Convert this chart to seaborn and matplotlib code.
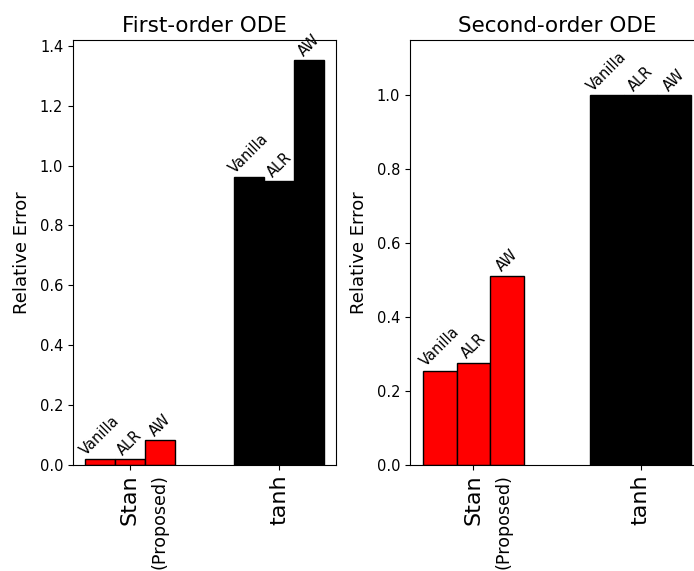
import numpy as np
import pandas as pd
import matplotlib
matplotlib.use("Agg")
import matplotlib.pyplot as plt
import seaborn as sns

# Activation functions compared on the x axis
methods = ["Stan", "tanh"]
method_colors = ["red", "black"]
# Training variants drawn side by side within each group
variants = ["Vanilla", "ALR", "AW"]

# Relative error, one list per variant, ordered as `methods`
first_vanilla = [0.020, 0.961]
first_alr = [0.020, 0.948]
first_aw = [0.083, 1.352]

second_vanilla = [0.255, 1.000]
second_alr = [0.276, 1.000]
second_aw = [0.512, 1.000]

titles = ["First-order ODE", "Second-order ODE"]
first_yticks = [0.0, 0.2, 0.4, 0.6, 0.8, 1.0, 1.2, 1.4]
second_yticks = [0.0, 0.2, 0.4, 0.6, 0.8, 1.0]


def long_frame(vanilla, alr, aw):
    rows = []
    for variant, vals in zip(variants, [vanilla, alr, aw]):
        for m, v in zip(methods, vals):
            rows.append({"method": m, "variant": variant, "error": v})
    return pd.DataFrame(rows)


frames = [
    long_frame(first_vanilla, first_alr, first_aw),
    long_frame(second_vanilla, second_alr, second_aw),
]

W, H = 694, 571
fig = plt.figure(figsize=(W / 100, H / 100), dpi=100)
ax1 = fig.add_axes([73 / W, (H - 465) / H, (336 - 73) / W, 425 / H])
ax2 = fig.add_axes([410 / W, (H - 465) / H, (704 - 410) / W, 425 / H])

for ax, df, title, yt in zip([ax1, ax2], frames, titles, [first_yticks, second_yticks]):
    sns.barplot(data=df, x="method", y="error", hue="variant",
                hue_order=variants, order=methods, width=0.6,
                dodge=True, legend=False, errorbar=None, ax=ax,
                edgecolor="black", linewidth=1.0, saturation=1)
    for container, variant in zip(ax.containers, variants):
        for bar, c in zip(container, method_colors):
            bar.set_facecolor(c)
        ax.bar_label(container, labels=[variant] * len(container),
                     rotation=45, padding=1, fontsize=10.5)
    ax.set_xlim(-0.38, 1.38)
    ax.set_yticks(yt)
    ax.set_yticklabels([f"{v:.1f}" for v in yt])
    ax.tick_params(axis="y", labelsize=10.5)
    ax.set_xticks(range(len(methods)))
    ax.set_xticklabels(methods, rotation=90, fontsize=16, va="top")
    ax.set_xlabel("")
    ax.set_ylabel("Relative Error", fontsize=13, labelpad=6)
    ax.set_title(title, fontsize=15.5)
    ax.annotate("(Proposed)", xy=(0, 0), xycoords=("data", "axes fraction"),
                xytext=(21.6, -6.3), textcoords="offset points",
                rotation=90, ha="center", va="top", fontsize=12.6)

ax1.set_ylim(0, max(first_aw) * 1.05)
ax2.set_ylim(0, 1.15)

fig.savefig("out.png", dpi=100)
